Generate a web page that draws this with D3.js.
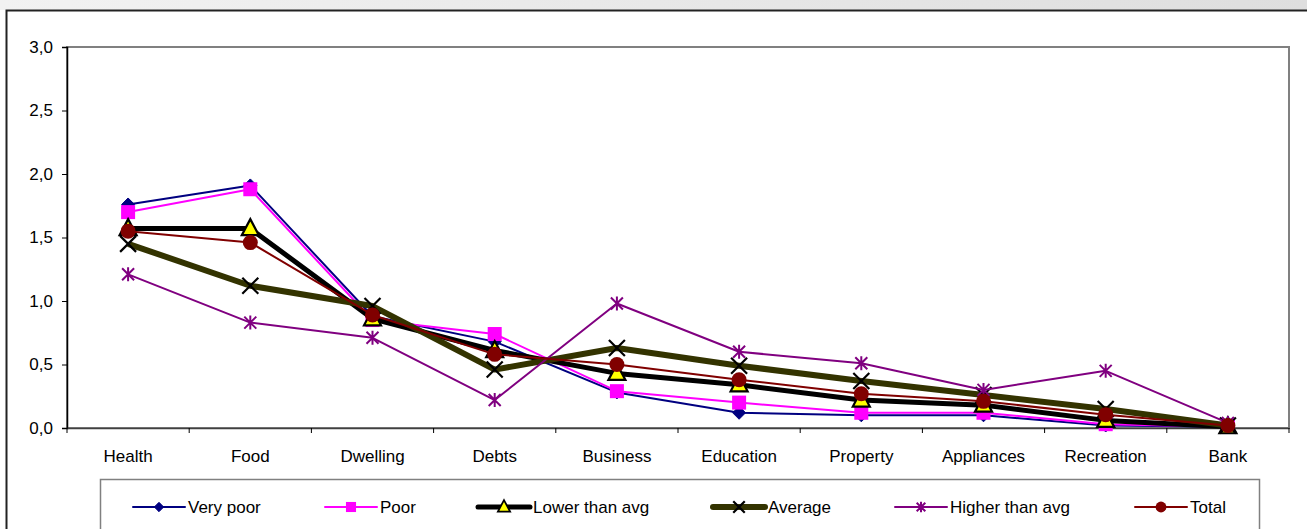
<!DOCTYPE html>
<html>
<head>
<meta charset="utf-8">
<script src="https://cdn.jsdelivr.net/npm/d3@7/dist/d3.min.js"></script>
<style>
  html, body { margin: 0; padding: 0; background: #fff; }
  svg { display: block; font-family: "Liberation Sans", Arial, sans-serif; }
</style>
</head>
<body>
<svg id="chart" width="1307" height="529"></svg>
<script>
const categories = ["Health", "Food", "Dwelling", "Debts", "Business", "Education", "Property", "Appliances", "Recreation", "Bank"];
const yTicks = [0, 0.5, 1.0, 1.5, 2.0, 2.5, 3.0];
const seriesNames = ["Very poor", "Poor", "Lower than avg", "Average", "Higher than avg", "Total"];
const veryPoor   = [1.76, 1.91, 0.88, 0.68, 0.28, 0.12, 0.10, 0.10, 0.02, 0.01];
const poor       = [1.70, 1.88, 0.85, 0.74, 0.29, 0.20, 0.12, 0.12, 0.03, 0.01];
const lowerAvg   = [1.57, 1.57, 0.86, 0.61, 0.43, 0.34, 0.22, 0.18, 0.06, 0.01];
const average    = [1.45, 1.12, 0.96, 0.46, 0.63, 0.49, 0.37, 0.26, 0.15, 0.02];
const higherAvg  = [1.21, 0.83, 0.71, 0.22, 0.98, 0.60, 0.51, 0.30, 0.45, 0.04];
const total      = [1.55, 1.46, 0.89, 0.58, 0.50, 0.38, 0.27, 0.21, 0.105, 0.02];

const seriesValues = [veryPoor, poor, lowerAvg, average, higherAvg, total];
const styles = [
  { color: "#000080", width: 2, marker: "diamond" },
  { color: "#FF00FF", width: 2, marker: "square" },
  { color: "#000000", width: 5, marker: "triangle" },
  { color: "#333300", width: 6, marker: "x" },
  { color: "#800080", width: 2, marker: "star" },
  { color: "#800000", width: 2, marker: "circle" }
];

const svg = d3.select("#chart");
const W = 1307, H = 529;

// top gray strip
const defs = svg.append("defs");
const grad = defs.append("linearGradient").attr("id", "topg").attr("x1", "0").attr("x2", "1");
grad.append("stop").attr("offset", "0").attr("stop-color", "#f2f2f2");
grad.append("stop").attr("offset", "1").attr("stop-color", "#dedede");
svg.append("rect").attr("x", 0).attr("y", 0).attr("width", W).attr("height", 10).attr("fill", "url(#topg)");
// outer chart border
svg.append("path").attr("d", `M6.5,${H + 5} L6.5,10.5 L${W + 5},10.5`)
  .attr("fill", "none").attr("stroke", "#222").attr("stroke-width", 2);

const plot = { left: 67, right: 1289, top: 47, bottom: 428 };

const x = d3.scaleBand().domain(categories).range([plot.left, plot.right]).padding(0);
const y = d3.scaleLinear().domain([0, 3]).range([plot.bottom, plot.top]);

// plot area border
svg.append("rect").attr("x", plot.left).attr("y", plot.top)
  .attr("width", plot.right - plot.left).attr("height", plot.bottom - plot.top)
  .attr("fill", "#fff").attr("stroke", "#808080").attr("stroke-width", 2);

// y axis
const yAxis = d3.axisLeft(y).tickValues(yTicks).tickSize(5).tickPadding(9)
  .tickFormat(d => d3.format(".1f")(d).replace(".", ","));
const gy = svg.append("g").attr("transform", `translate(${plot.left},0)`).call(yAxis);
gy.select(".domain").attr("stroke", "#000").attr("stroke-width", 1.5);
gy.selectAll(".tick line").attr("stroke", "#000");
gy.selectAll(".tick text").attr("font-size", 17).attr("fill", "#000")
  .attr("font-family", "Liberation Sans, Arial, sans-serif");

// x axis
const xAxis = d3.axisBottom(x).tickSize(0).tickPadding(22);
const gx = svg.append("g").attr("transform", `translate(0,${plot.bottom})`).call(xAxis);
gx.select(".domain").attr("stroke", "#404040").attr("stroke-width", 1.5);
gx.selectAll(".tick text").attr("font-size", 17).attr("fill", "#000")
  .attr("font-family", "Liberation Sans, Arial, sans-serif");
// band boundary ticks
const bounds = categories.map(c => x(c)).concat([x(categories[categories.length - 1]) + x.bandwidth()]);
svg.append("g").selectAll("line").data(bounds).join("line")
  .attr("x1", d => d).attr("x2", d => d)
  .attr("y1", plot.bottom).attr("y2", plot.bottom + 5)
  .attr("stroke", "#000").attr("stroke-width", 1);

function drawMarker(g, type, cx, cy, color, s) {
  s = s || 1;
  if (type === "diamond") {
    const r = 6.5 * s;
    g.append("path").attr("d", `M${cx},${cy - r} L${cx + r},${cy} L${cx},${cy + r} L${cx - r},${cy} Z`)
      .attr("fill", color).attr("stroke", color);
  } else if (type === "square") {
    const r = 7 * s;
    g.append("rect").attr("x", cx - r).attr("y", cy - r).attr("width", 2 * r).attr("height", 2 * r)
      .attr("fill", color);
  } else if (type === "triangle") {
    g.append("path").attr("d", `M${cx},${cy - 9.5 * s} L${cx + 8.5 * s},${cy + 6.5 * s} L${cx - 8.5 * s},${cy + 6.5 * s} Z`)
      .attr("fill", "#FFFF00").attr("stroke", "#000").attr("stroke-width", 2.2 * Math.max(s, 0.8)).attr("stroke-linejoin", "miter");
  } else if (type === "x") {
    const r = 8 * s;
    g.append("path").attr("d", `M${cx - r},${cy - r} L${cx + r},${cy + r} M${cx + r},${cy - r} L${cx - r},${cy + r}`)
      .attr("stroke", "#000").attr("stroke-width", 2.2).attr("fill", "none");
  } else if (type === "star") {
    const r = 6 * s;
    g.append("path").attr("d", `M${cx - r},${cy - r} L${cx + r},${cy + r} M${cx + r},${cy - r} L${cx - r},${cy + r} M${cx},${cy - r - 1} L${cx},${cy + r + 1}`)
      .attr("stroke", color).attr("stroke-width", 2).attr("fill", "none");
  } else if (type === "circle") {
    g.append("circle").attr("cx", cx).attr("cy", cy).attr("r", 7.5 * s).attr("fill", color);
  }
}

const line = d3.line().x((d, i) => x(categories[i]) + x.bandwidth() / 2).y(d => y(d));

seriesValues.forEach((vals, si) => {
  const st = styles[si];
  const g = svg.append("g");
  g.append("path").datum(vals).attr("d", line)
    .attr("fill", "none").attr("stroke", st.color).attr("stroke-width", st.width)
    .attr("stroke-linejoin", "round");
  vals.forEach((v, i) => {
    drawMarker(g, st.marker, x(categories[i]) + x.bandwidth() / 2, y(v), st.color, 1);
  });
});

// legend
svg.append("rect").attr("x", 100.5).attr("y", 479.5).attr("width", 1159).attr("height", 70)
  .attr("fill", "#fff").attr("stroke", "#808080").attr("stroke-width", 1.5);
const legendX = [133, 325, 478, 713, 895, 1135];
const legendY = 507;
seriesNames.forEach((name, si) => {
  const st = styles[si];
  const g = svg.append("g");
  const x0 = legendX[si], x1 = x0 + 52;
  g.append("line").attr("x1", x0).attr("x2", x1).attr("y1", legendY).attr("y2", legendY)
    .attr("stroke", st.color).attr("stroke-width", st.width).attr("stroke-linecap", "round");
  drawMarker(g, st.marker, (x0 + x1) / 2, legendY, st.color, 0.72);
  g.append("text").attr("x", x1 + 3).attr("y", legendY).attr("dy", "0.36em")
    .attr("font-size", 17).attr("fill", "#000").text(name);
});
</script>
</body>
</html>
